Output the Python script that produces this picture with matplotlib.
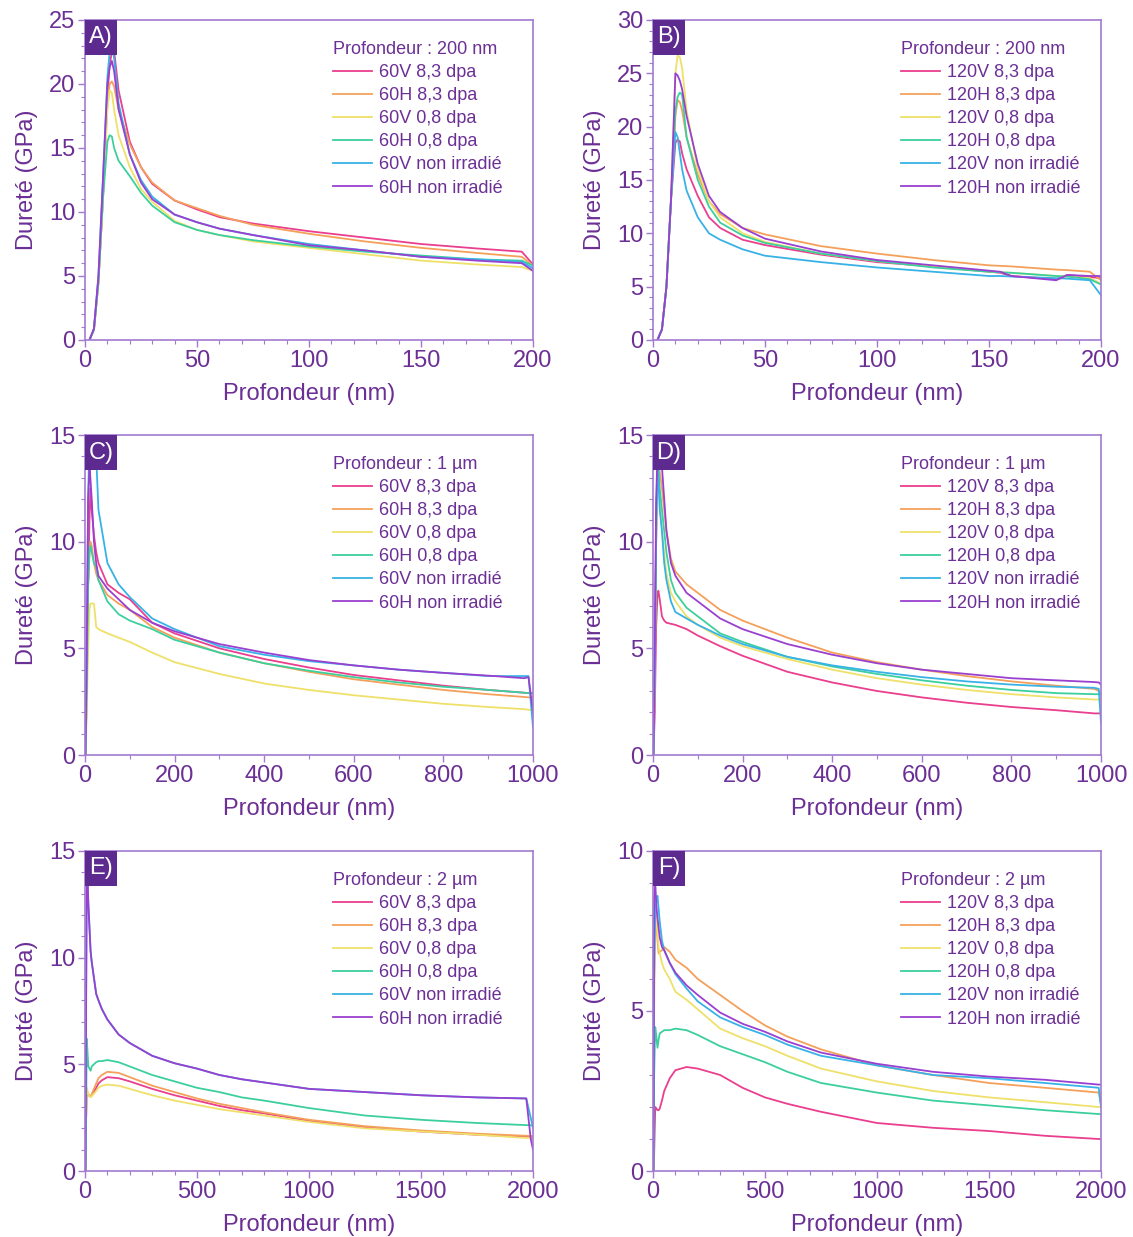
import matplotlib.pyplot as plt
from matplotlib.patches import Rectangle
from matplotlib.ticker import MultipleLocator

plt.rcParams["font.family"] = ["Liberation Sans", "DejaVu Sans"]

# ---- couleurs / style ----
TXT = "#6b2f95"
SPINE = "#a27ad0"
BOX = "#5d2a90"
COLORS = ["#ea3e8e", "#f4a05a", "#efe06a", "#3ccf9e", "#38b2e6", "#9a40d0"]
SUFFIX = ["V 8,3 dpa", "H 8,3 dpa", "V 0,8 dpa", "H 0,8 dpa", "V non irradié", "H non irradié"]

# ================= A) 60, 200 nm =================
A_depth = [2, 4, 6, 8, 10, 11, 12, 13, 15, 20, 25, 30, 40, 50, 60, 75, 100, 125, 150, 175, 195, 200]
A_v83 = [0, 0.8, 4.5, 11, 19.0, 21.5, 22.5, 22.6, 19.5, 15.5, 13.5, 12.2, 10.9, 10.2, 9.6, 9.1, 8.5, 8.0, 7.5, 7.15, 6.9, 5.9]
A_h83 = [0, 0.8, 4.5, 11, 18.5, 20.0, 20.2, 19.8, 18.0, 15.3, 13.5, 12.3, 10.9, 10.3, 9.7, 9.0, 8.3, 7.7, 7.2, 6.8, 6.5, 5.8]
A_v08 = [0, 0.8, 4.5, 11, 18.0, 19.5, 19.3, 18.0, 16.0, 13.5, 11.8, 10.8, 9.3, 8.6, 8.2, 7.7, 7.2, 6.7, 6.2, 5.9, 5.7, 5.4]
A_h08 = [0, 0.8, 4.5, 11, 15.5, 16.0, 15.9, 15.0, 14.0, 12.8, 11.5, 10.5, 9.2, 8.6, 8.2, 7.8, 7.3, 6.9, 6.6, 6.3, 6.2, 5.8]
A_vni = [0, 0.9, 5.0, 12.5, 20.5, 22.5, 23.0, 22.0, 18.5, 14.5, 12.5, 11.2, 9.8, 9.2, 8.7, 8.2, 7.5, 7.0, 6.5, 6.3, 6.1, 5.6]
A_hni = [0, 0.9, 5.0, 12.5, 20.0, 21.3, 21.8, 21.0, 18.0, 14.5, 12.3, 11.0, 9.8, 9.2, 8.7, 8.2, 7.4, 7.0, 6.5, 6.2, 6.0, 5.4]

# ================= B) 120, 200 nm =================
B_depth = [2, 4, 6, 8, 10, 11, 12, 13, 15, 20, 25, 30, 40, 50, 75, 100, 125, 150, 155, 160, 180, 185, 195, 200]
B_v83 = [0, 1.0, 5, 13, 18.5, 18.8, 18.6, 17.5, 16.0, 13.5, 11.5, 10.5, 9.4, 8.9, 8.0, 7.3, 6.9, 6.4, 6.3, 6.0, 5.7, 6.1, 5.9, 5.8]
B_h83 = [0, 1.0, 5, 13, 21.0, 22.5, 22.3, 21.5, 19.0, 15.5, 13.0, 11.8, 10.5, 9.9, 8.8, 8.1, 7.5, 7.0, 6.95, 6.9, 6.6, 6.55, 6.4, 5.6]
B_v08 = [0, 1.0, 5, 13, 25.0, 26.7, 26.5, 25.5, 21.5, 16.0, 13.0, 11.5, 10.0, 9.2, 8.1, 7.4, 6.9, 6.4, 6.35, 6.3, 6.0, 5.95, 5.8, 5.3]
B_h08 = [0, 1.0, 5, 13, 21.5, 22.8, 23.2, 23.0, 19.0, 15.0, 12.5, 11.0, 9.8, 9.1, 8.1, 7.4, 6.8, 6.4, 6.35, 6.3, 6.0, 5.95, 5.7, 5.2]
B_vni = [0, 1.0, 5, 13, 19.5, 19.0, 17.5, 16.0, 14.0, 11.5, 10.0, 9.4, 8.5, 7.9, 7.3, 6.8, 6.4, 6.0, 6.0, 5.95, 5.8, 5.75, 5.6, 4.2]
B_hni = [0, 1.0, 5, 13, 25.0, 24.8, 24.3, 23.5, 21.0, 16.5, 13.5, 12.0, 10.5, 9.5, 8.3, 7.5, 7.0, 6.5, 6.4, 6.0, 5.6, 6.1, 6.0, 6.0]

# ================= C) 60, 1 µm =================
C_depth = [1, 4, 7, 10, 12, 15, 20, 25, 30, 50, 75, 100, 150, 200, 300, 400, 500, 600, 700, 800, 900, 980, 990, 1000]
C_v83 = [0, 3, 8, 11, 12.5, 11.5, 10.3, 9.5, 9.0, 8.0, 7.6, 7.3, 6.2, 5.7, 5.0, 4.5, 4.1, 3.75, 3.5, 3.25, 3.05, 2.92, 2.9, 2.9]
C_h83 = [0, 3, 8, 9.5, 10.0, 9.8, 9.0, 8.5, 8.2, 7.5, 7.1, 6.8, 6.0, 5.5, 4.8, 4.3, 3.9, 3.55, 3.3, 3.05, 2.85, 2.72, 2.7, 2.7]
C_v08 = [0, 2, 5, 6.8, 7.1, 7.1, 7.1, 6.0, 5.9, 5.7, 5.5, 5.3, 4.8, 4.35, 3.8, 3.35, 3.05, 2.8, 2.6, 2.4, 2.25, 2.15, 2.12, 2.1]
C_h08 = [0, 3, 8, 9.5, 9.8, 9.5, 9.0, 8.8, 8.2, 7.2, 6.6, 6.3, 5.9, 5.4, 4.8, 4.3, 3.95, 3.65, 3.4, 3.2, 3.05, 2.92, 2.9, 2.9]
C_vni = [0, 5, 12, 15, 15.5, 15.5, 15.0, 14.0, 11.5, 9.0, 8.0, 7.4, 6.4, 5.9, 5.1, 4.7, 4.4, 4.2, 4.0, 3.85, 3.7, 3.7, 3.7, 1.3]
C_hni = [0, 5, 12, 13.5, 13.0, 12.0, 10.0, 9.0, 8.4, 7.8, 7.3, 6.8, 6.2, 5.8, 5.2, 4.8, 4.45, 4.2, 4.0, 3.85, 3.72, 3.6, 3.65, 2.0]

# ================= D) 120, 1 µm =================
D_depth = [1, 4, 7, 10, 12, 15, 20, 25, 30, 40, 50, 75, 100, 150, 200, 300, 400, 500, 600, 700, 800, 900, 985, 995, 1000]
D_v83 = [0, 2, 6, 7.5, 7.7, 7.3, 6.5, 6.3, 6.2, 6.15, 6.1, 5.9, 5.6, 5.1, 4.65, 3.9, 3.4, 3.0, 2.7, 2.45, 2.25, 2.1, 1.95, 1.95, 1.95]
D_h83 = [0, 4, 10, 13.0, 13.5, 13.3, 12.5, 11.5, 10.5, 9.2, 8.6, 8.0, 7.6, 6.8, 6.3, 5.5, 4.8, 4.35, 4.0, 3.7, 3.45, 3.25, 3.1, 3.0, 2.9]
D_v08 = [0, 4, 10, 12.8, 13.0, 12.0, 10.5, 9.5, 8.5, 7.6, 7.2, 6.5, 6.1, 5.5, 5.1, 4.5, 4.0, 3.6, 3.3, 3.05, 2.85, 2.7, 2.6, 2.6, 2.6]
D_h08 = [0, 4, 10, 13.3, 13.5, 12.5, 11.5, 10.5, 9.5, 8.2, 7.6, 6.9, 6.5, 5.7, 5.3, 4.6, 4.15, 3.8, 3.5, 3.25, 3.05, 2.9, 2.85, 2.85, 2.85]
D_vni = [0, 4, 11, 13.5, 13.0, 11.5, 10.5, 9.0, 8.2, 7.2, 6.7, 6.4, 6.1, 5.6, 5.2, 4.6, 4.2, 3.9, 3.65, 3.45, 3.3, 3.2, 3.15, 3.1, 1.5]
D_hni = [0, 5, 12, 14.0, 14.5, 14.5, 13.5, 12.0, 10.5, 9.0, 8.4, 7.6, 7.2, 6.4, 5.9, 5.2, 4.7, 4.3, 4.0, 3.8, 3.6, 3.5, 3.42, 3.4, 3.3]

# ================= E) 60, 2 µm =================
E_depth = [2, 5, 8, 10, 15, 25, 30, 50, 60, 75, 100, 150, 200, 300, 400, 500, 600, 700, 800, 1000, 1250, 1500, 1750, 1970, 1990, 2000]
E_v83 = [0, 2.5, 3.7, 3.65, 3.55, 3.5, 3.55, 3.9, 4.1, 4.25, 4.4, 4.35, 4.2, 3.85, 3.55, 3.3, 3.05, 2.85, 2.7, 2.35, 2.05, 1.85, 1.7, 1.6, 1.6, 1.55]
E_h83 = [0, 2.5, 3.8, 3.7, 3.6, 3.5, 3.6, 4.1, 4.35, 4.5, 4.65, 4.6, 4.4, 4.0, 3.7, 3.4, 3.15, 2.95, 2.75, 2.4, 2.1, 1.9, 1.75, 1.65, 1.65, 1.6]
E_v08 = [0, 2.5, 3.9, 3.8, 3.6, 3.45, 3.5, 3.75, 3.9, 4.0, 4.05, 4.0, 3.85, 3.55, 3.3, 3.1, 2.9, 2.75, 2.6, 2.3, 2.0, 1.85, 1.7, 1.55, 1.55, 1.5]
E_h08 = [0, 3.0, 6.2, 5.8, 4.9, 4.7, 4.9, 5.1, 5.15, 5.15, 5.2, 5.1, 4.9, 4.5, 4.2, 3.9, 3.7, 3.45, 3.3, 2.95, 2.6, 2.4, 2.25, 2.15, 2.15, 2.1]
E_vni = [0, 8, 14.0, 14.0, 12.5, 10.3, 9.8, 8.3, 8.0, 7.6, 7.1, 6.4, 6.0, 5.4, 5.05, 4.8, 4.5, 4.3, 4.15, 3.85, 3.7, 3.55, 3.45, 3.4, 2.5, 2.0]
E_hni = [0, 8, 14.2, 14.2, 12.5, 10.3, 9.8, 8.3, 8.0, 7.6, 7.1, 6.4, 6.0, 5.4, 5.05, 4.8, 4.5, 4.3, 4.15, 3.85, 3.7, 3.55, 3.45, 3.4, 1.5, 1.0]

# ================= F) 120, 2 µm =================
F_depth = [2, 5, 10, 15, 20, 25, 30, 40, 50, 75, 100, 150, 200, 300, 400, 500, 600, 750, 1000, 1250, 1500, 1750, 1990, 2000]
F_v83 = [0, 0.5, 2.0, 1.95, 1.9, 1.9, 1.95, 2.2, 2.5, 2.9, 3.15, 3.25, 3.2, 3.0, 2.6, 2.3, 2.1, 1.85, 1.5, 1.35, 1.25, 1.1, 1.0, 1.0]
F_h83 = [0, 6.0, 8.2, 7.8, 7.2, 6.8, 6.85, 6.9, 7.0, 6.85, 6.6, 6.35, 6.0, 5.5, 5.0, 4.55, 4.2, 3.8, 3.3, 3.0, 2.75, 2.6, 2.45, 2.1]
F_v08 = [0, 5.0, 7.5, 8.0, 7.5, 7.0, 6.8, 6.5, 6.3, 6.0, 5.6, 5.35, 5.05, 4.45, 4.15, 3.9, 3.6, 3.2, 2.8, 2.5, 2.3, 2.15, 2.0, 2.0]
F_h08 = [0, 3.0, 4.5, 4.2, 3.85, 4.1, 4.3, 4.35, 4.4, 4.4, 4.45, 4.4, 4.25, 3.9, 3.65, 3.4, 3.1, 2.75, 2.45, 2.2, 2.05, 1.9, 1.78, 1.78]
F_vni = [0, 6.0, 8.0, 8.5, 8.6, 8.2, 7.8, 7.2, 6.9, 6.5, 6.15, 5.7, 5.3, 4.8, 4.5, 4.25, 3.95, 3.6, 3.3, 3.0, 2.9, 2.75, 2.6, 2.0]
F_hni = [0, 8.5, 9.0, 8.3, 7.9, 7.6, 7.3, 7.0, 6.9, 6.5, 6.2, 5.8, 5.5, 4.95, 4.6, 4.35, 4.05, 3.7, 3.35, 3.1, 2.95, 2.85, 2.7, 2.7]

panels = [
    ("A)", "60", "Profondeur : 200 nm", A_depth, [A_v83, A_h83, A_v08, A_h08, A_vni, A_hni], 200, 25, 50, 10),
    ("B)", "120", "Profondeur : 200 nm", B_depth, [B_v83, B_h83, B_v08, B_h08, B_vni, B_hni], 200, 30, 50, 10),
    ("C)", "60", "Profondeur : 1 µm", C_depth, [C_v83, C_h83, C_v08, C_h08, C_vni, C_hni], 1000, 15, 200, 100),
    ("D)", "120", "Profondeur : 1 µm", D_depth, [D_v83, D_h83, D_v08, D_h08, D_vni, D_hni], 1000, 15, 200, 100),
    ("E)", "60", "Profondeur : 2 µm", E_depth, [E_v83, E_h83, E_v08, E_h08, E_vni, E_hni], 2000, 15, 500, 100),
    ("F)", "120", "Profondeur : 2 µm", F_depth, [F_v83, F_h83, F_v08, F_h08, F_vni, F_hni], 2000, 10, 500, 100),
]

W, H = 1133, 1237
fig = plt.figure(figsize=(W / 100, H / 100), dpi=100)

lefts = [85, 653]
tops = [20, 435, 851]
aw, ah = 448, 320

for i, (tag, prefix, title, depth, series, xmax, ymax, xmaj, xmin_) in enumerate(panels):
    col, row = i % 2, i // 2
    ax = fig.add_axes([lefts[col] / W, 1 - (tops[row] + ah) / H, aw / W, ah / H])

    for ys, c, s in zip(series, COLORS, SUFFIX):
        ax.plot(depth, ys, color=c, lw=1.3, label=prefix + s)

    ax.set_xlim(0, xmax)
    ax.set_ylim(0, ymax)
    ax.xaxis.set_major_locator(MultipleLocator(xmaj))
    ax.xaxis.set_minor_locator(MultipleLocator(xmin_))
    ax.yaxis.set_major_locator(MultipleLocator(5))
    ax.yaxis.set_minor_locator(MultipleLocator(1))
    ax.tick_params(which="both", direction="out", colors=SPINE, labelcolor=TXT,
                   top=False, right=False)
    ax.tick_params(which="major", length=5, width=1, labelsize=17, pad=2)
    ax.tick_params(which="minor", length=3, width=0.8)
    for sp in ax.spines.values():
        sp.set_color(SPINE)
        sp.set_linewidth(1.2)

    ax.set_xlabel("Profondeur (nm)", color=TXT, fontsize=17, labelpad=8)
    ax.set_ylabel("Dureté (GPa)", color=TXT, fontsize=17, labelpad=8)

    # étiquette du panneau
    bw, bh = 32 / aw, 35 / ah
    ax.add_patch(Rectangle((0, 1 - bh), bw, bh, transform=ax.transAxes,
                           facecolor=BOX, edgecolor="none", zorder=5, clip_on=False))
    ax.text(bw / 2, 1 - bh / 2, tag, transform=ax.transAxes, ha="center", va="center",
            color="white", fontsize=17, zorder=6)

    leg = ax.legend(loc="upper left", bbox_to_anchor=(0.553, 0.935), frameon=False,
                    title=title, alignment="left", fontsize=13, title_fontsize=13,
                    handlelength=2.2, handletextpad=0.35, labelspacing=0.34,
                    borderpad=0, borderaxespad=0)
    leg.get_title().set_color(TXT)
    for t in leg.get_texts():
        t.set_color(TXT)

fig.savefig("out.png", dpi=100, facecolor="white")
